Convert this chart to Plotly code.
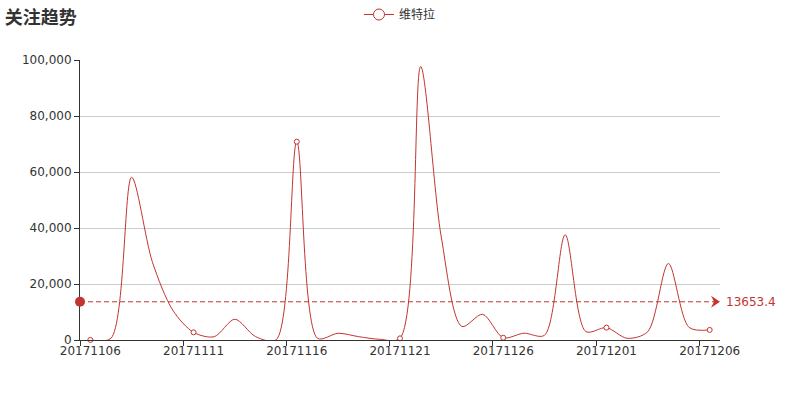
import plotly.graph_objs as go

# daily attention counts, 2017-11-06 .. 2017-12-06
dates = ["20171106", "20171107", "20171108", "20171109", "20171110",
         "20171111", "20171112", "20171113", "20171114", "20171115",
         "20171116", "20171117", "20171118", "20171119", "20171120",
         "20171121", "20171122", "20171123", "20171124", "20171125",
         "20171126", "20171127", "20171128", "20171129", "20171130",
         "20171201", "20171202", "20171203", "20171204", "20171205",
         "20171206"]
counts = [35, 612, 58120, 28010, 10560,
          2735, 1180, 7420, 1230, 45,
          70830, 640, 2410, 1190, 260,
          590, 97680, 36738, 4830, 9180,
          810, 2430, 1690, 37580, 3020,
          4420, 610, 2980, 27310, 4510,
          3600]
series_name = "维特拉"
title_text = "关注趋势"
y_ticks = [0, 20000, 40000, 60000, 80000, 100000]

RED = "#c23531"
FONT = "DejaVu Sans, Noto Sans CJK SC"

avg = sum(counts) / len(counts)

fig = go.Figure()

# smooth line
fig.add_trace(go.Scatter(x=dates, y=counts, mode="lines",
                         line=dict(color=RED, width=1, shape="spline", smoothing=0.85),
                         showlegend=False, hoverinfo="skip"))

# echarts only draws every 5th symbol when crowded
fig.add_trace(go.Scatter(x=dates[::5], y=counts[::5], mode="markers",
                         marker=dict(symbol="circle", size=5, color="white",
                                     line=dict(color=RED, width=1)),
                         showlegend=False, cliponaxis=False))

# legend only entry
fig.add_trace(go.Scatter(x=[None], y=[None], mode="lines+markers", name=series_name,
                         line=dict(color=RED, width=1),
                         marker=dict(symbol="circle", size=11, color="white",
                                     line=dict(color=RED, width=1))))

# average mark line
fig.add_shape(type="line", xref="paper", yref="y", x0=0, x1=1, y0=avg, y1=avg,
              line=dict(color=RED, width=1, dash="5px,3px"))
fig.add_shape(type="circle", xref="paper", yref="y", xsizemode="pixel", ysizemode="pixel",
              xanchor=0, yanchor=avg, x0=-5, x1=5, y0=-5, y1=5,
              fillcolor=RED, line=dict(width=0))
fig.add_shape(type="path", xref="paper", yref="y", xsizemode="pixel", ysizemode="pixel",
              xanchor=1, yanchor=avg, path="M -9,6 L 0,0 L -9,-6 L -6,0 Z",
              fillcolor=RED, line=dict(width=0))
fig.add_annotation(xref="paper", yref="y", x=1, y=avg, text=f"{avg:.1f}",
                   showarrow=False, xanchor="left", xshift=4,
                   font=dict(family=FONT, size=12, color=RED))

fig.update_layout(
    width=800, height=400,
    margin=dict(l=80, r=80, t=60, b=60),
    paper_bgcolor="white", plot_bgcolor="white",
    font=dict(family=FONT, size=12, color="#333"),
    title=dict(text="<b>" + title_text + "</b>", xref="container", yref="container",
               x=0.006, xanchor="left", y=0.9725, yanchor="top",
               font=dict(family="Noto Sans CJK SC", size=18, color="#333")),
    legend=dict(orientation="h", xref="paper", yref="container",
                x=0.5, xanchor="center", y=1.0, yanchor="top",
                font=dict(size=12, color="#333"), itemwidth=30),
    xaxis=dict(type="category", tickmode="linear", tick0=0, dtick=5,
               tickson="boundaries", ticks="outside", ticklen=5, tickcolor="#333",
               tickangle=0,
               showline=True, linecolor="#333", linewidth=1,
               showgrid=False, range=[-0.5, len(dates) - 0.5],
               tickfont=dict(size=12, color="#333")),
    yaxis=dict(range=[0, 100000], tickvals=y_ticks, tickformat=",d",
               ticks="outside", ticklen=5, tickcolor="#333",
               showline=True, linecolor="#333", linewidth=1,
               showgrid=True, gridcolor="#ccc", zeroline=False,
               tickfont=dict(size=12, color="#333")),
)

# drop the default page margin so the figure sits at the window corner
fig.write_html("out.html", config={"displayModeBar": False},
               post_script="document.body.style.margin = '0';")
